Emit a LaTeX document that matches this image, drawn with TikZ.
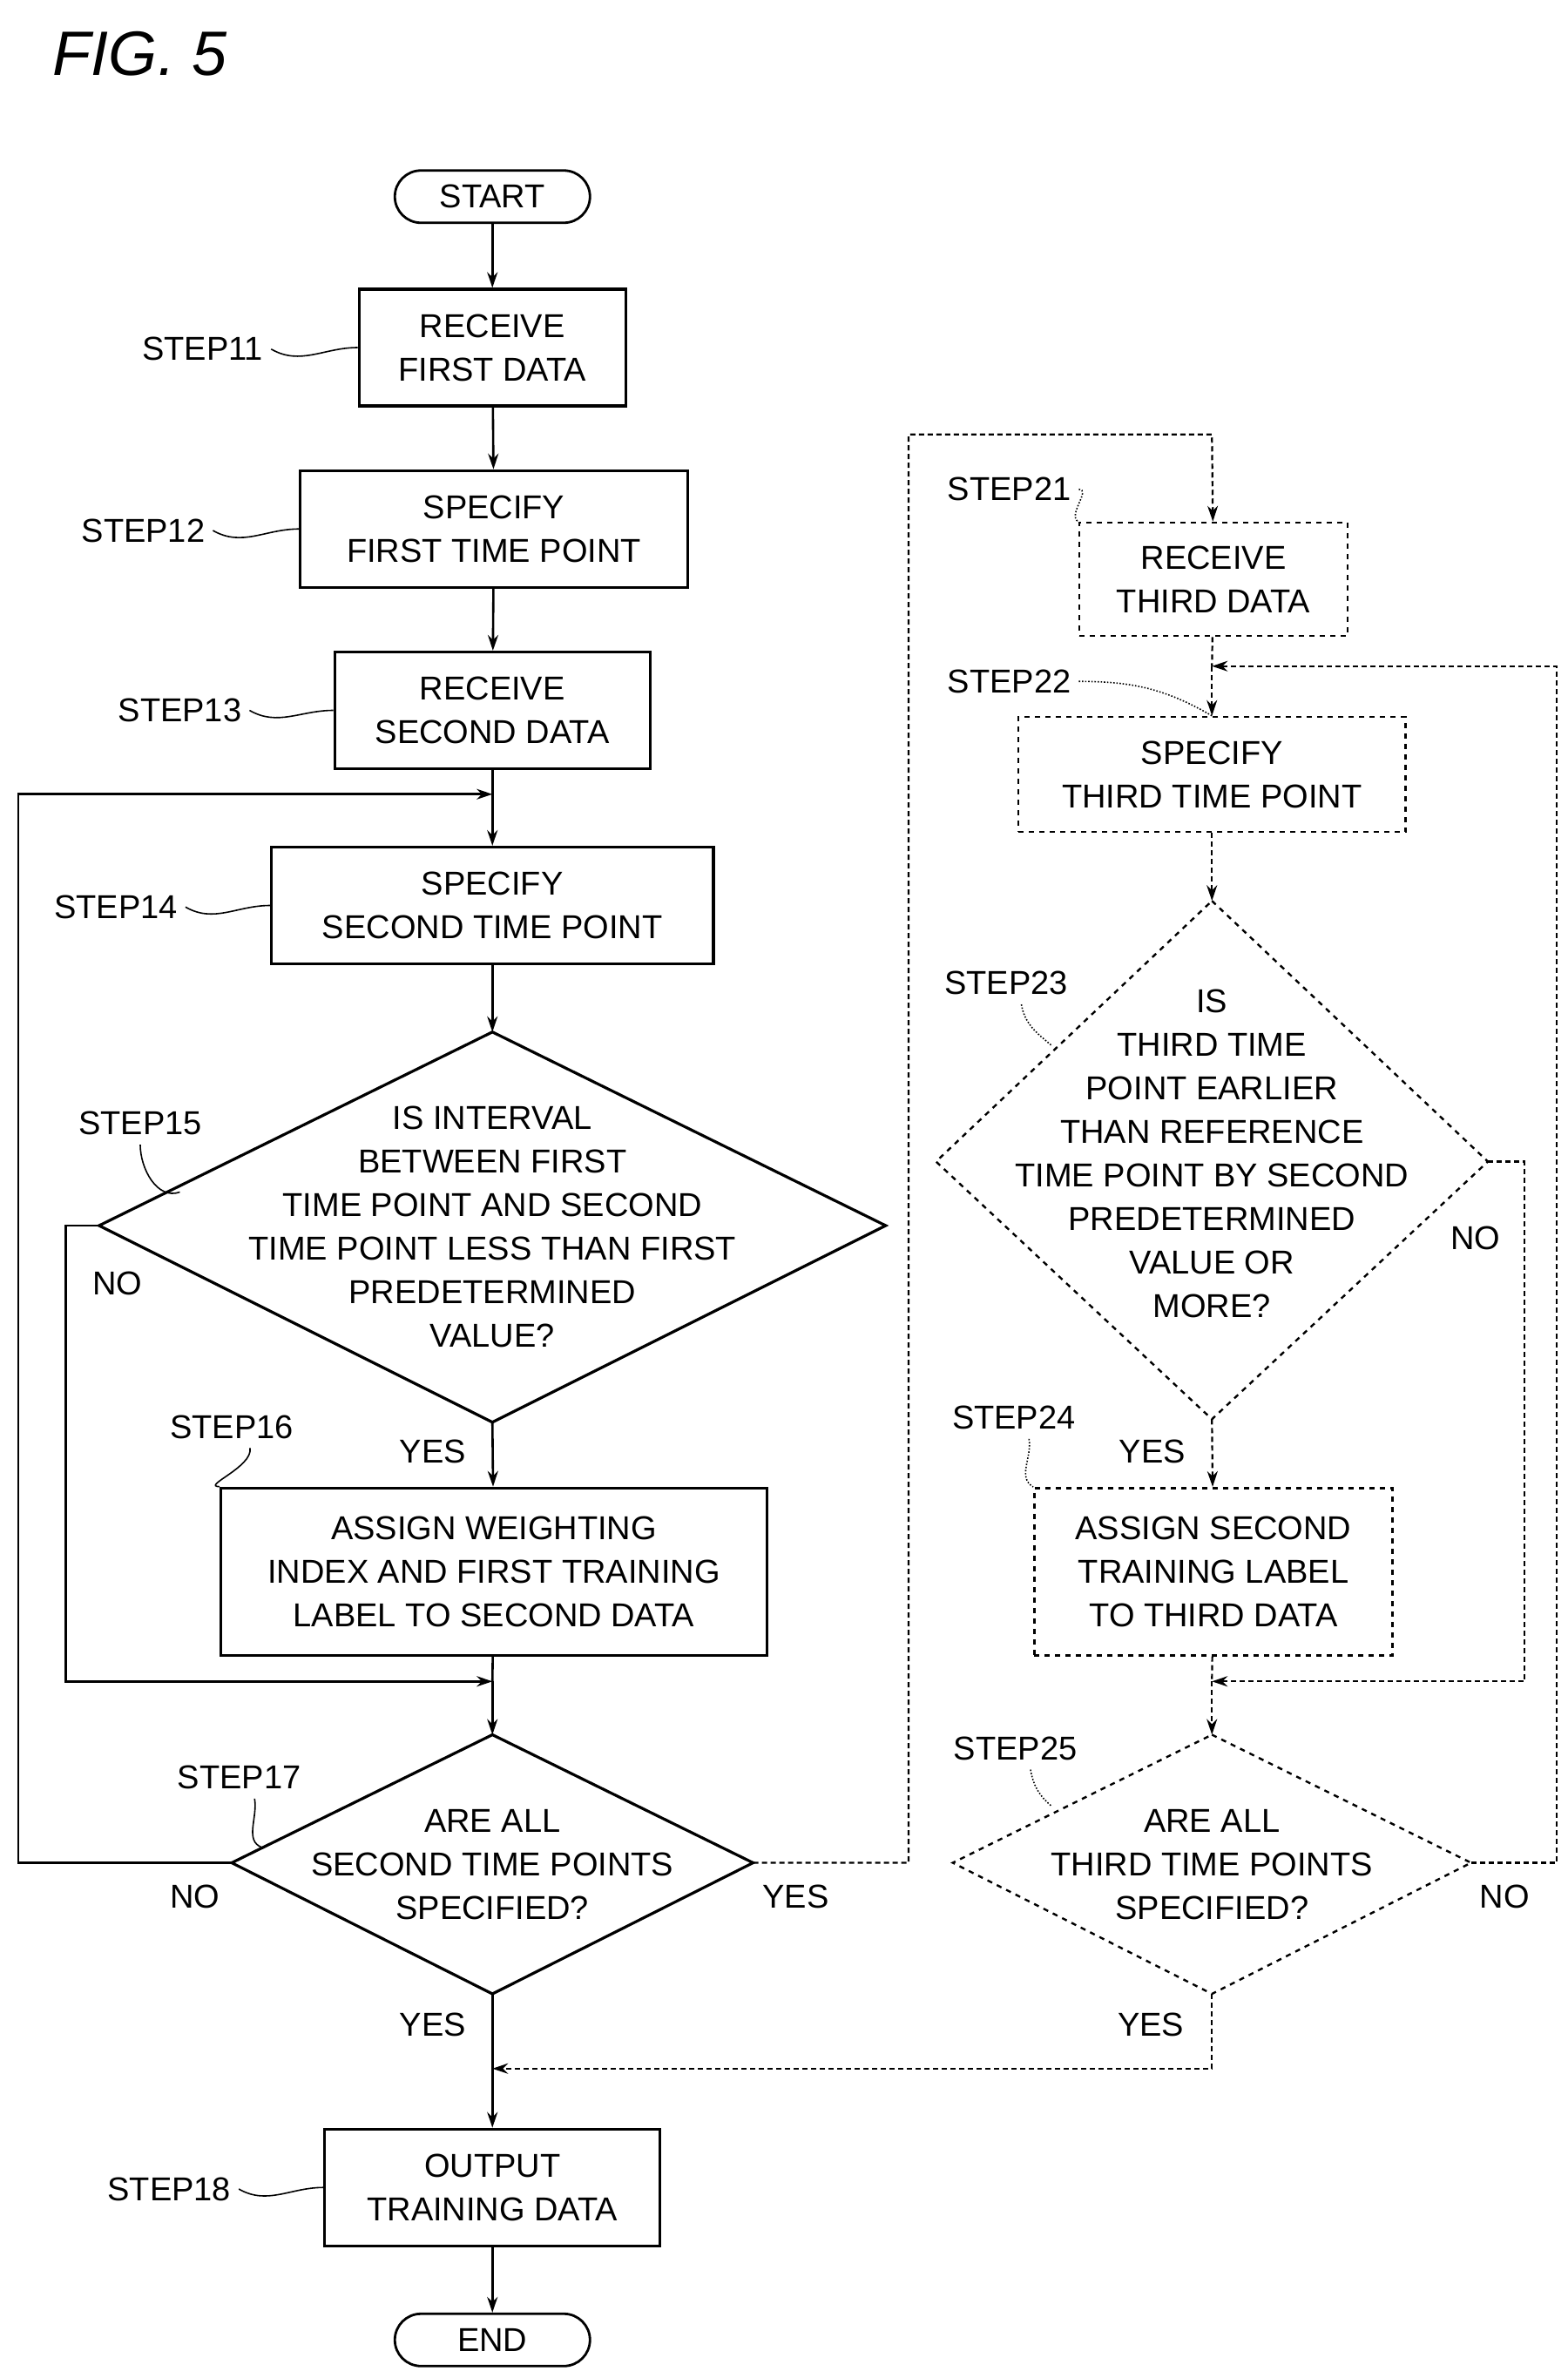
\documentclass[tikz,border=0pt]{standalone}
\usepackage{fontspec}
\setmainfont{Liberation Sans}
\usetikzlibrary{shapes.geometric,arrows.meta}
\begin{document}
\begin{tikzpicture}[x=0.875pt,y=-0.875pt,
  every node/.style={font=\fontsize{19}{25}\selectfont,align=center,inner sep=0pt},
  box/.style={draw,line width=1.6pt,minimum width=#1*0.875pt},
  dbox/.style={draw,dashed,line width=1.3pt,minimum width=#1*0.875pt},
  term/.style={draw,line width=1.4pt,rounded corners=15pt,minimum width=112pt,minimum height=30pt},
  line/.style={line width=1.3pt},
  arr/.style={line width=1.3pt,-{Stealth[length=9pt,width=6pt]}},
  darr/.style={line width=1.1pt,densely dashed,-{Stealth[length=9pt,width=6pt]}},
  dline/.style={line width=1.1pt,densely dashed},
  lead/.style={line width=0.8pt},
  dlead/.style={line width=0.8pt,densely dotted},
  lab/.style={font=\fontsize{19}{22}\selectfont}]
\useasboundingbox (0,0) rectangle (1028,1560);
\node[font=\itshape\fontsize{36}{40}\selectfont] (fig) at (92,35) {FIG. 5};
% left column
\node[term] (start) at (323,129) {START};
\node[box=175,minimum height=67pt] (s11) at (323,228) {RECEIVE\\FIRST DATA};
\node[box=254,minimum height=67pt] (s12) at (324,347) {SPECIFY\\FIRST TIME POINT};
\node[box=207,minimum height=67pt] (s13) at (323,466) {RECEIVE\\SECOND DATA};
\node[box=290,minimum height=67pt] (s14) at (323,594) {SPECIFY\\SECOND TIME POINT};
\draw[line width=1.6pt] (323,677) coordinate (d15t) -- (581,804) coordinate (d15r) -- (323,933) coordinate (d15b) -- (65,804) coordinate (d15l) -- cycle;
\node (t15) at (323,805) {IS INTERVAL\\BETWEEN FIRST\\TIME POINT AND SECOND\\TIME POINT LESS THAN FIRST\\PREDETERMINED\\VALUE?};
\node[box=358,minimum height=96pt] (s16) at (324,1031) {ASSIGN WEIGHTING\\INDEX AND FIRST TRAINING\\LABEL TO SECOND DATA};
\draw[line width=1.6pt] (323,1138) coordinate (d17t) -- (494,1222) coordinate (d17r) -- (323,1308) coordinate (d17b) -- (152,1222) coordinate (d17l) -- cycle;
\node (t17) at (323,1223) {ARE ALL\\SECOND TIME POINTS\\SPECIFIED?};
\node[box=220,minimum height=67pt] (s18) at (323,1435) {OUTPUT\\TRAINING DATA};
\node[term] (end) at (323,1535) {END};
% right column
\node[dbox=176,minimum height=65pt] (s21) at (796,380) {RECEIVE\\THIRD DATA};
\node[dbox=254,minimum height=66pt] (s22) at (795,508) {SPECIFY\\THIRD TIME POINT};
\draw[line width=1.2pt,dashed] (795,591) coordinate (d23t) -- (976,762) coordinate (d23r) -- (795,931) coordinate (d23b) -- (614,762) coordinate (d23l) -- cycle;
\node (t23) at (795,757) {IS\\THIRD TIME\\POINT EARLIER\\THAN REFERENCE\\TIME POINT BY SECOND\\PREDETERMINED\\VALUE OR\\MORE?};
\node[dbox=235,minimum height=96pt] (s24) at (796,1031) {ASSIGN SECOND\\TRAINING LABEL\\TO THIRD DATA};
\draw[line width=1.2pt,dashed] (795,1138) coordinate (d25t) -- (965,1222) coordinate (d25r) -- (795,1308) coordinate (d25b) -- (625,1222) coordinate (d25l) -- cycle;
\node (t25) at (795,1223) {ARE ALL\\THIRD TIME POINTS\\SPECIFIED?};
% coordinates
\coordinate (j14) at (323,521);
\coordinate (j17) at (323,1103);
\coordinate (j22) at (795,437);
\coordinate (j25) at (795,1103);
\coordinate (j18) at (323,1357);
% left connectors
\draw[arr] (start) -- (s11);
\draw[arr] (s11) -- (s12);
\draw[arr] (s12) -- (s13);
\draw[line] (s13) -- (j14);
\draw[arr] (j14) -- (s14);
\draw[arr] (s14) -- (d15t);
\draw[arr] (d15b) -- (s16);
\draw[line] (s16) -- (j17);
\draw[arr] (j17) -- (d17t);
\draw[arr] (d15l) -- (43,804) -- (43,1103) -- (j17);
\draw[arr] (d17l) -- (12,1222) -- (12,521) -- (j14);
\draw[line] (d17b) -- (j18);
\draw[arr] (j18) -- (s18);
\draw[arr] (s18) -- (end);
% right connectors
\draw[darr] (d17r) -- (596,1222) -- (596,285) -- (795,285) -- (s21);
\draw[dline] (s21) -- (j22);
\draw[darr] (j22) -- (s22);
\draw[darr] (s22) -- (d23t);
\draw[darr] (d23b) -- (s24);
\draw[dline] (s24) -- (j25);
\draw[darr] (j25) -- (d25t);
\draw[darr] (d23r) -- (1000,762) -- (1000,1103) -- (j25);
\draw[darr] (d25r) -- (1021,1222) -- (1021,437) -- (j22);
\draw[darr] (d25b) -- (795,1357) -- (j18);
% branch labels
\node[lab] (no15) at (77,842) {NO};
\node[lab] (yes15) at (284,952) {YES};
\node[lab] (no17) at (128,1244) {NO};
\node[lab] (yes17r) at (522,1244) {YES};
\node[lab] (yes17) at (284,1328) {YES};
\node[lab] (no23) at (968,812) {NO};
\node[lab] (yes23) at (756,952) {YES};
\node[lab] (no25) at (987,1244) {NO};
\node[lab] (yes25) at (755,1328) {YES};
% step labels
\node[lab] (l11) at (133,229) {STEP11};
\node[lab] (l12) at (94,348) {STEP12};
\node[lab] (l13) at (118,466) {STEP13};
\node[lab] (l14) at (76,595) {STEP14};
\node[lab] (l15) at (92,737) {STEP15};
\node[lab] (l16) at (152,936) {STEP16};
\node[lab] (l17) at (157,1166) {STEP17};
\node[lab] (l18) at (111,1436) {STEP18};
\node[lab] (l21) at (662,321) {STEP21};
\node[lab] (l22) at (662,447) {STEP22};
\node[lab] (l23) at (660,645) {STEP23};
\node[lab] (l24) at (665,930) {STEP24};
\node[lab] (l25) at (666,1147) {STEP25};
% leaders
\draw[lead] (l11.east) ++(5,0) to[out=-30,in=180] (s11.west);
\draw[lead] (l12.east) ++(5,0) to[out=-30,in=180] (s12.west);
\draw[lead] (l13.east) ++(5,0) to[out=-30,in=180] (s13.west);
\draw[lead] (l14.east) ++(5,0) to[out=-30,in=180] (s14.west);
\draw[lead] (l15.south) ++(0,6) to[out=-90,in=200] (118,782);
\draw[lead] (l16.south) ++(12,6) to[out=-80,in=180] (s16.north west);
\draw[lead] (l17.south) ++(10,6) to[out=-80,in=160] (172,1212);
\draw[lead] (l18.east) ++(5,0) to[out=-30,in=180] (s18.west);
\draw[dlead] (l21.east) ++(5,0) to[out=0,in=150] (s21.north west);
\draw[dlead] (l22.east) ++(5,0) to[out=0,in=150] (s22.north);
\draw[dlead] (l23.south) ++(10,6) to[out=-80,in=140] (690,686);
\draw[dlead] (l24.south) ++(10,6) to[out=-80,in=150] (s24.north west);
\draw[dlead] (l25.south) ++(10,6) to[out=-80,in=140] (690,1185);
\end{tikzpicture}
\end{document}
